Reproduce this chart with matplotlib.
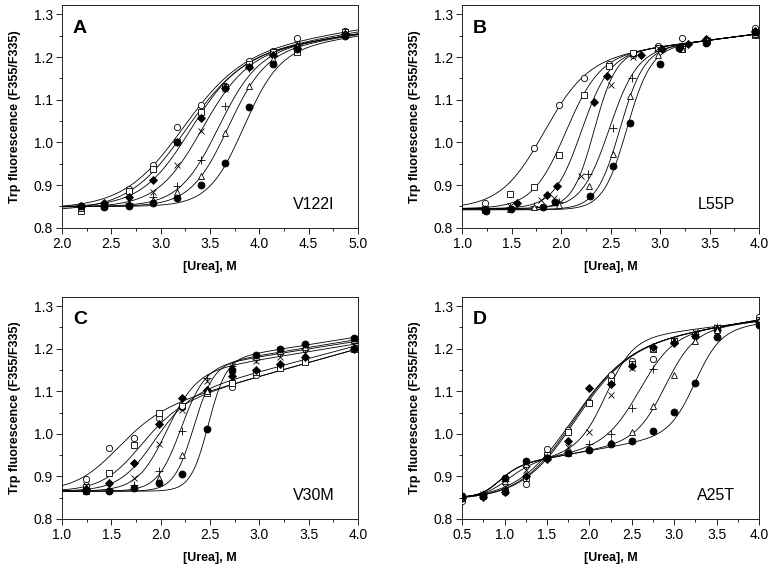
import matplotlib
matplotlib.use("Agg")
import matplotlib.pyplot as plt
import numpy as np
from matplotlib.ticker import MultipleLocator

nan = np.nan

plt.rcParams['font.family'] = ['Liberation Sans', 'DejaVu Sans']

# marker order in every panel: open circle, open square, filled diamond, x, +, open triangle, filled circle

# ---- panel A (V122I) ----
xa = [2.19, 2.43, 2.68, 2.92, 3.17, 3.41, 3.65, 3.90, 4.14, 4.38, 4.87]
a_ocircle = [0.852, 0.856, 0.890, 0.946, 1.036, 1.087, 1.132, 1.190, 1.215, 1.245, 1.262]
a_square = [0.840, 0.852, 0.887, 0.938, 1.000, 1.072, 1.130, 1.185, 1.212, 1.213, 1.258]
a_diamond = [0.850, 0.857, 0.872, 0.911, 1.000, 1.058, 1.128, 1.176, 1.205, 1.222, 1.254]
a_cross = [0.848, 0.853, 0.862, 0.885, 0.948, 1.027, 1.125, 1.180, 1.210, 1.230, 1.255]
a_plus = [0.848, 0.852, 0.858, 0.872, 0.897, 0.960, 1.085, 1.175, 1.203, 1.228, 1.255]
a_tri = [0.847, 0.851, 0.855, 0.865, 0.884, 0.922, 1.023, 1.133, 1.195, 1.225, 1.254]
a_fcircle = [0.852, 0.848, 0.852, 0.859, 0.870, 0.900, 0.952, 1.082, 1.185, 1.220, 1.250]
# two-state fits: (native, unfolded intercept, unfolded slope, Cm, width)
fit_a = [(0.845, 1.085, 0.036, 3.19, 0.30),
         (0.840, 1.080, 0.036, 3.22, 0.29),
         (0.848, 1.080, 0.035, 3.28, 0.25),
         (0.848, 1.080, 0.035, 3.40, 0.23),
         (0.850, 1.080, 0.035, 3.57, 0.20),
         (0.850, 1.078, 0.035, 3.67, 0.19),
         (0.850, 1.075, 0.035, 3.83, 0.18)]

# ---- panel B (L55P) ----
xb = [1.23, 1.48, 1.73, 1.98, 2.23, 2.48, 2.73, 2.98, 3.22, 3.47, 3.96]
b_ocircle = [0.858, nan, 0.987, 1.087, 1.150, 1.185, 1.205, 1.225, 1.245, 1.240, 1.268]
b_square = [0.845, 0.878, 0.895, 0.970, 1.112, 1.180, 1.210, 1.222, 1.220, 1.238, 1.252]
xb_diamond = [1.23, 1.55, 1.855, 1.96, 2.33, 2.46, 2.805, 3.02, 3.286, 3.46, 3.96]
b_diamond = [0.842, 0.857, 0.877, 0.898, 1.095, 1.156, 1.206, 1.219, 1.232, 1.242, 1.262]
xb_cross = [1.23, 1.48, 1.80, 1.93, 2.20, 2.50, 2.73, 2.98, 3.22, 3.47, 3.96]
b_cross = [0.845, 0.850, 0.865, 0.870, 0.922, 1.135, 1.200, 1.222, 1.225, 1.240, 1.258]
xb_plus = [1.23, 1.48, 1.73, 1.98, 2.27, 2.52, 2.72, 2.98, 3.22, 3.47, 3.96]
b_plus = [0.845, 0.848, 0.852, 0.860, 0.925, 1.035, 1.150, 1.215, 1.225, 1.240, 1.258]
xb_tri = [1.23, 1.48, 1.73, 1.98, 2.28, 2.52, 2.70, 2.98, 3.22, 3.47, 3.96]
b_tri = [0.842, 0.845, 0.848, 0.853, 0.898, 0.972, 1.110, 1.205, 1.218, 1.240, 1.255]
xb_fcircle = [1.24, 1.49, 1.815, 1.94, 2.29, 2.52, 2.70, 3.00, 3.195, 3.46, 3.96]
b_fcircle = [0.839, 0.844, 0.849, 0.861, 0.875, 0.945, 1.045, 1.185, 1.222, 1.234, 1.260]
fit_b = [(0.845, 1.135, 0.030, 1.81, 0.22),
         (0.845, 1.135, 0.030, 2.04, 0.17),
         (0.845, 1.135, 0.030, 2.20, 0.14),
         (0.845, 1.135, 0.030, 2.33, 0.11),
         (0.845, 1.135, 0.030, 2.48, 0.14),
         (0.843, 1.135, 0.030, 2.59, 0.12),
         (0.842, 1.135, 0.030, 2.66, 0.12)]

# ---- panel C (V30M) ----
xc = [1.24, 1.48, 1.73, 1.98, 2.22, 2.47, 2.72, 2.97, 3.21, 3.46, 3.96]
c_ocircle = [0.893, 0.967, 0.989, 1.038, 1.064, 1.100, 1.111, 1.139, 1.160, 1.170, 1.200]
c_square = [0.875, 0.908, 0.973, 1.048, 1.066, 1.095, 1.120, 1.145, 1.155, 1.168, 1.200]
c_diamond = [0.870, 0.884, 0.932, 1.023, 1.085, 1.102, 1.135, 1.150, 1.165, 1.180, 1.200]
c_cross = [0.880, 0.875, 0.895, 0.975, 1.055, 1.125, 1.160, 1.170, 1.180, 1.190, 1.210]
c_plus = [0.870, 0.870, 0.880, 0.912, 1.007, 1.130, 1.160, 1.175, 1.190, 1.200, 1.215]
c_tri = [0.865, 0.868, 0.875, 0.895, 0.950, 1.100, 1.150, 1.180, 1.195, 1.205, 1.220]
c_fcircle = [0.865, 0.866, 0.873, 0.884, 0.906, 1.012, 1.150, 1.185, 1.200, 1.210, 1.225]
fit_c = [(0.865, 0.94, 0.065, 1.50, 0.22),
         (0.865, 0.94, 0.065, 1.75, 0.20),
         (0.865, 0.96, 0.062, 1.90, 0.18),
         (0.865, 1.06, 0.038, 2.05, 0.15),
         (0.865, 1.07, 0.037, 2.20, 0.12),
         (0.865, 1.07, 0.038, 2.33, 0.10),
         (0.865, 1.08, 0.037, 2.48, 0.09)]

# ---- panel D (A25T) ----
xd = [0.5, 0.75, 1.0, 1.25, 1.5, 1.75, 2.0, 2.25, 2.5, 2.75, 3.0, 3.25, 3.5, 4.0]
d_ocircle = [0.842, 0.855, 0.862, 0.882, 0.965, 1.010, 1.075, 1.138, 1.170, 1.175, 1.215, 1.230, 1.245, 1.275]
d_square = [0.848, 0.853, 0.865, 0.895, 0.950, 1.005, 1.073, 1.125, 1.165, 1.200, 1.218, 1.232, 1.248, 1.268]
d_diamond = [0.850, 0.852, 0.862, 0.900, 0.940, 0.982, 1.108, 1.118, 1.160, 1.203, 1.213, 1.230, 1.245, 1.262]
d_cross = [0.850, 0.858, 0.875, 0.915, 0.945, 0.970, 1.005, 1.090, 1.155, 1.200, 1.220, 1.240, 1.252, 1.265]
d_plus = [0.850, 0.858, 0.888, 0.925, 0.945, 0.958, 0.975, 1.000, 1.060, 1.152, 1.215, 1.235, 1.250, 1.265]
d_tri = [0.852, 0.858, 0.890, 0.930, 0.945, 0.955, 0.965, 0.980, 1.005, 1.065, 1.138, 1.218, 1.245, 1.265]
d_fcircle = [0.853, 0.856, 0.896, 0.935, 0.942, 0.955, 0.962, 0.975, 0.983, 1.006, 1.052, 1.120, 1.228, 1.255]
# two-state (5 values) or three-state fits:
# (native, C1, w1, intermediate intercept, slope, unfolded intercept, slope, C2, w2)
fit_d = [(0.845, 1.14, 0.032, 1.76, 0.33),
         (0.845, 1.14, 0.032, 1.78, 0.32),
         (0.845, 1.14, 0.032, 1.80, 0.32),
         (0.850, 1.00, 0.15, 0.89, 0.035, 1.165, 0.025, 2.20, 0.16),
         (0.850, 0.92, 0.12, 0.89, 0.035, 1.165, 0.025, 2.60, 0.20),
         (0.850, 0.92, 0.12, 0.89, 0.035, 1.165, 0.025, 2.90, 0.17),
         (0.850, 0.92, 0.12, 0.89, 0.035, 1.160, 0.025, 3.25, 0.15)]

MARKERS = [('o', 'white', 4.5), ('s', 'white', 4.5), ('D', 'black', 4.2), ('x', 'black', 5),
           ('+', 'black', 6), ('^', 'white', 5), ('o', 'black', 5)]


def two_state(x, yn, u0, u1, cm, w):
    f = 1.0 / (1.0 + np.exp((cm - x) / w))
    return yn + (u0 + u1 * x - yn) * f


def three_state(x, yn, c1, w1, i0, i1, u0, u1, c2, w2):
    f1 = 1.0 / (1.0 + np.exp((c1 - x) / w1))
    f2 = 1.0 / (1.0 + np.exp((c2 - x) / w2))
    inner = (i0 + i1 * x) * (1 - f2) + (u0 + u1 * x) * f2
    return yn * (1 - f1) + inner * f1


def draw_panel(ax, xs, ys, fits, xlim, letter, name):
    xx = np.linspace(xlim[0], xlim[1], 400)
    for p in fits:
        if len(p) == 5:
            yy = two_state(xx, *p)
        else:
            yy = three_state(xx, *p)
        ax.plot(xx, yy, color='black', lw=0.6, zorder=2)
    for x, y, (m, fc, ms) in zip(xs, ys, MARKERS):
        ax.plot(x, y, linestyle='none', marker=m, markersize=ms, markerfacecolor=fc,
                markeredgecolor='black', markeredgewidth=0.6, color='black', zorder=3)
    ax.set_xlim(*xlim)
    ax.set_ylim(0.8, 1.322)
    ax.xaxis.set_major_locator(MultipleLocator(0.5))
    ax.xaxis.set_minor_locator(MultipleLocator(0.25))
    ax.yaxis.set_major_locator(MultipleLocator(0.1))
    ax.yaxis.set_minor_locator(MultipleLocator(0.05))
    ax.xaxis.set_major_formatter(plt.FuncFormatter(lambda v, pos: f"{v:.1f}"))
    ax.yaxis.set_major_formatter(plt.FuncFormatter(lambda v, pos: f"{v:.1f}"))
    ax.tick_params(which='major', direction='out', length=4.5, width=0.6, labelsize=10, pad=2)
    ax.tick_params(which='minor', direction='out', length=2.5, width=0.6)
    for s in ax.spines.values():
        s.set_linewidth(0.6)
    ax.set_xlabel('[Urea], M', fontsize=9, fontweight='bold', labelpad=7)
    ax.set_ylabel('Trp fluorescence (F355/F335)', fontsize=9, fontweight='bold', labelpad=9)
    ax.text(0.037, 0.935, letter, transform=ax.transAxes, fontsize=14, fontweight='bold',
            ha='left', va='top')
    ax.text(0.92, 0.085, name, transform=ax.transAxes, fontsize=11.5, ha='right', va='baseline')


fig = plt.figure(figsize=(7.74, 5.68), dpi=100)
ax_a = fig.add_axes([0.080, 0.599, 0.3825, 0.392])
ax_b = fig.add_axes([0.597, 0.599, 0.3837, 0.392])
ax_c = fig.add_axes([0.080, 0.0865, 0.3825, 0.391])
ax_d = fig.add_axes([0.597, 0.0865, 0.3837, 0.391])

draw_panel(ax_a, [xa] * 7,
           [a_ocircle, a_square, a_diamond, a_cross, a_plus, a_tri, a_fcircle],
           fit_a, (2.0, 5.0), 'A', 'V122I')
draw_panel(ax_b, [xb, xb, xb_diamond, xb_cross, xb_plus, xb_tri, xb_fcircle],
           [b_ocircle, b_square, b_diamond, b_cross, b_plus, b_tri, b_fcircle],
           fit_b, (1.0, 4.0), 'B', 'L55P')
draw_panel(ax_c, [xc] * 7,
           [c_ocircle, c_square, c_diamond, c_cross, c_plus, c_tri, c_fcircle],
           fit_c, (1.0, 4.0), 'C', 'V30M')
draw_panel(ax_d, [xd] * 7,
           [d_ocircle, d_square, d_diamond, d_cross, d_plus, d_tri, d_fcircle],
           fit_d, (0.5, 4.0), 'D', 'A25T')

fig.savefig('out.png', dpi=100)
